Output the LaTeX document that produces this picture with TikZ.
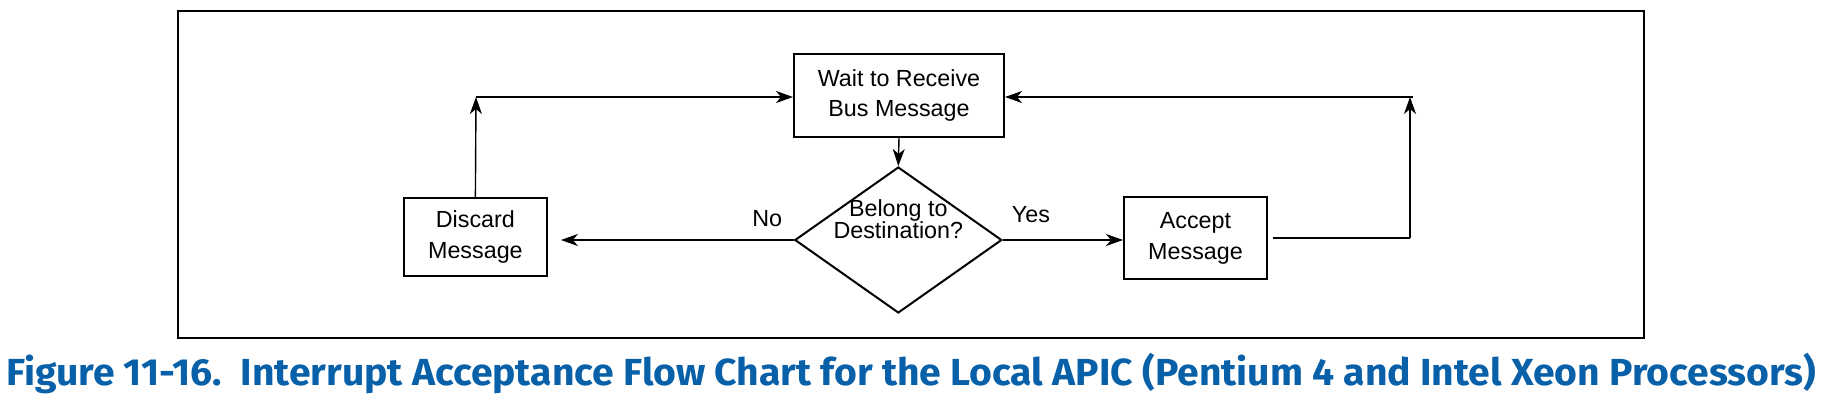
\documentclass[tikz,border=0pt]{standalone}
\usepackage{fontspec}
\setmainfont{Liberation Sans}
\newfontfamily\capfont{Fira Sans}
\usetikzlibrary{arrows.meta,shapes.geometric}
\definecolor{capblue}{RGB}{8,96,168}
\begin{document}
\begin{tikzpicture}[x=1pt,y=-1pt,
  box/.style={draw=black,line width=2pt,minimum width=#1,inner sep=0pt,align=center,
    font=\fontsize{23.3}{30.8}\selectfont},
  conn/.style={line width=1.4pt},
  arr/.style={conn,-{Stealth[length=17pt,width=12pt,inset=5pt]}},
  lbl/.style={font=\fontsize{23.3}{28}\selectfont,inner sep=0pt}]
\useasboundingbox (0,0) rectangle (1826,405);
\draw[line width=2.5pt] (178,11) rectangle (1644,338);
\node[box=210pt,minimum height=83pt] (wait) at (899,95.5) {Wait to Receive\\Bus Message};
\node[draw=black,line width=2pt,shape=diamond,minimum width=207pt,minimum height=146pt,inner sep=0pt] (dest) at (898.3,240) {};
\node[lbl,align=center,font=\fontsize{23.3}{22}\selectfont] (destlbl) at (898.3,219) {Belong to\\Destination?};
\node[box=143pt,minimum height=77.5pt] (discard) at (475.4,237) {Discard\\Message};
\node[box=143pt,minimum height=82pt] (accept) at (1195.5,238) {Accept\\Message};
\node[lbl,anchor=base] (no) at (767.3,226.7) {No};
\node[lbl,anchor=base west] (yes) at (1011.7,222.3) {Yes};
\coordinate (cl) at (476,97);
\coordinate (cr) at (1410,238);
\coordinate (crt) at (1410,97);
\draw[arr] (wait.south) -- (dest.north);
\draw[arr,shorten >=13pt] (dest.west) -- (dest.west -| discard.east);
\draw[arr] (dest.east) -- (dest.east -| accept.west);
\draw[arr] (discard.north) -- (cl);
\draw[arr] (cl) -- (cl -| wait.west);
\draw[conn,shorten <=5pt] (accept.east |- cr) -- (cr);
\draw[arr] (cr) -- (crt);
\draw[arr] ([xshift=3pt]crt) -- (crt -| wait.east);
\node[anchor=base west,inner sep=0pt,text=capblue,font=\capfont\bfseries\fontsize{37.7}{40}\selectfont] (cap) at (6,385) {\scalebox{1.037}[1]{Figure 11-16.\ \ Interrupt Acceptance Flow Chart for the Local APIC (Pentium 4 and Intel Xeon Processors)}};
\end{tikzpicture}
\end{document}
